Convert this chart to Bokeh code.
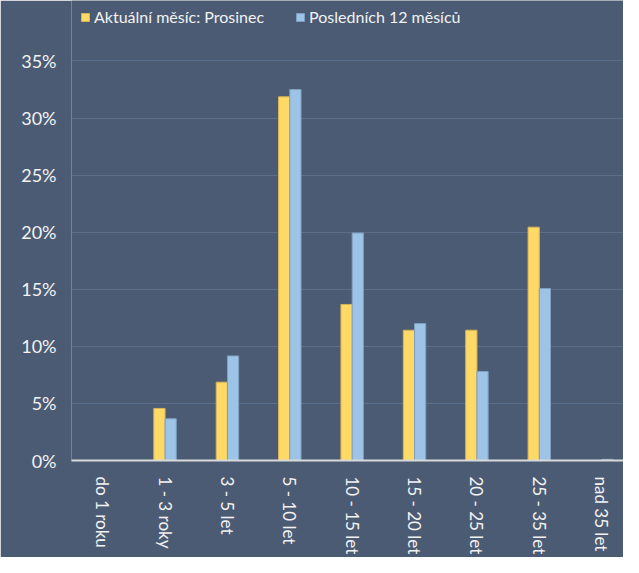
from bokeh.plotting import figure
from bokeh.models import Range1d, FixedTicker, PrintfTickFormatter, Legend, LegendItem, ColumnDataSource
from bokeh.embed import file_html
from bokeh.resources import INLINE

categories = ["do 1 roku", "1 - 3 roky", "3 - 5 let", "5 - 10 let", "10 - 15 let",
              "15 - 20 let", "20 - 25 let", "25 - 35 let", "nad 35 let"]
aktualni = [0.0, 4.56, 6.86, 31.86, 13.67, 11.41, 11.41, 20.44, 0.0]
poslednich = [0.0, 3.66, 9.16, 32.5, 19.93, 12.0, 7.8, 15.07, 0.1]
y_ticks = [0, 5, 10, 15, 20, 25, 30, 35]
series_names = ["Aktuální měsíc: Prosinec", "Posledních 12 měsíců"]

BG = "#4B5B73"
FONT = "Lato"

idx = list(range(len(categories)))
src = ColumnDataSource(dict(
    x1=[i - 0.09 for i in idx],
    x2=[i + 0.09 for i in idx],
    a=aktualni,
    b=poslednich,
))

p = figure(width=623, height=557, output_backend="svg", toolbar_location=None,
           x_range=Range1d(-0.5, 8.35), y_range=Range1d(0, 40.3))
p.background_fill_color = BG
p.border_fill_color = BG
p.outline_line_color = None
p.min_border_left = 71
p.min_border_right = 0
p.min_border_top = 0
p.min_border_bottom = 96

r1 = p.vbar(x="x1", top="a", width=0.18, source=src, fill_color="#FFD966",
            line_color="#D9B554", line_width=1)
r2 = p.vbar(x="x2", top="b", width=0.18, source=src, fill_color="#9DC3E6",
            line_color="#7F9FC0", line_width=1)

# x axis
p.xaxis.ticker = FixedTicker(ticks=idx)
p.xaxis.major_label_overrides = {i: c for i, c in enumerate(categories)}
p.xaxis.major_label_orientation = "vertical"
p.xaxis.major_label_text_font = FONT
p.xaxis.major_label_text_font_size = "17px"
p.xaxis.major_label_text_color = "#F2F2F2"
p.xaxis.major_tick_line_color = None
p.xaxis.minor_tick_line_color = None
p.xaxis.axis_line_color = "#D9D9D9"
p.xaxis.axis_line_width = 2
p.xaxis.major_label_standoff = 10

# y axis
p.yaxis.ticker = FixedTicker(ticks=y_ticks)
p.yaxis.formatter = PrintfTickFormatter(format="%d%%")
p.yaxis.major_label_text_font = FONT
p.yaxis.major_label_text_font_size = "18px"
p.yaxis.major_label_text_color = "#F2F2F2"
p.yaxis.major_tick_line_color = None
p.yaxis.minor_tick_line_color = None
p.yaxis.axis_line_color = None
p.yaxis.major_label_standoff = 9

p.xgrid.grid_line_color = None
p.ygrid.grid_line_color = "#5B6E8A"
p.ygrid.grid_line_width = 1

legend = Legend(items=[LegendItem(label=series_names[0], renderers=[r1]),
                       LegendItem(label=series_names[1], renderers=[r2])],
                orientation="horizontal", location=(5, 430))
legend.background_fill_alpha = 0
legend.border_line_alpha = 0
legend.label_text_font = FONT
legend.label_text_font_size = "16px"
legend.label_text_color = "#F2F2F2"
legend.glyph_width = 10
legend.glyph_height = 10
legend.spacing = 31
legend.label_standoff = 4
legend.padding = 4
legend.margin = 0
p.add_layout(legend)

open("out.html", "w").write(file_html(p, INLINE))
